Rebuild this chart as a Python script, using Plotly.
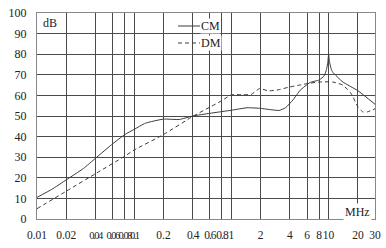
import math
import plotly.graph_objects as go

# Data
cm_freq = [0.01, 0.0142, 0.02, 0.03, 0.04, 0.06, 0.08, 0.1, 0.13, 0.2, 0.29, 0.4, 0.6, 1.0,
           1.45, 2.0, 2.6, 3.1, 3.6, 4.3, 5.1, 6.4, 8.0, 9.0, 9.5, 9.8, 10.0, 10.2, 10.6, 11.0,
           14.0, 20.0, 30.0]
cm_db = [10.5, 14.4, 19.0, 24.5, 29.5, 36.5, 41.0, 43.5, 46.5, 48.5, 48.3, 50.0, 51.3, 52.8,
         54.0, 53.7, 53.0, 52.7, 54.0, 57.8, 62.5, 66.2, 67.5, 69.5, 72.5, 76.0, 80.0, 76.5,
         73.0, 71.3, 66.5, 62.3, 55.7]

dm_freq = [0.01, 0.02, 0.04, 0.08, 0.1, 0.2, 0.4, 0.6, 0.8, 1.0, 1.3, 1.6, 1.95, 2.4, 3.1,
           3.9, 5.0, 6.0, 8.0, 11.0, 14.0, 17.0, 20.0, 22.5, 25.0, 30.0]
dm_db = [5.0, 13.5, 22.0, 30.5, 33.5, 41.0, 49.8, 54.3, 57.5, 60.3, 60.3, 60.5, 63.3, 62.2,
         62.8, 64.0, 65.0, 65.7, 66.5, 66.5, 65.0, 61.0, 54.5, 52.0, 52.0, 53.5]

x_tickvals = [0.01, 0.02, 0.04, 0.06, 0.08, 0.1, 0.2, 0.4, 0.6, 0.8, 1, 2, 4, 6, 8, 10, 20, 30]
x_ticklabels = ["0.01", "0.02", "0.04", "0.06", "0.08", "0.1", "0.2", "0.4", "0.6", "0.8", "1",
                "2", "4", "6", "8", "10", "20", "30"]
y_tickvals = list(range(0, 101, 10))
series_names = ["CM", "DM"]

FONT = "Liberation Serif"
GRID = "#4a4a4a"
LINE = "#3a3a3a"
TXT = "#222"

# condensed labels where the reference squeezes them together
tight = {"0.04", "0.06", "0.08", "0.1"}
mid = {"0.4", "0.6", "0.8"}
x_ticktext = []
for t in x_ticklabels:
    if t in tight:
        x_ticktext.append(f"<span style='font-size:10.5px;letter-spacing:-1.5px'>{t}</span>")
    elif t in mid:
        x_ticktext.append(f"<span style='letter-spacing:-1px'>{t}</span>")
    else:
        x_ticktext.append(t)

fig = go.Figure()
fig.add_trace(go.Scatter(x=cm_freq, y=cm_db, mode="lines", name=series_names[0],
                         line=dict(color=LINE, width=1, shape="spline", smoothing=0.4)))
fig.add_trace(go.Scatter(x=dm_freq, y=dm_db, mode="lines", name=series_names[1],
                         line=dict(color=LINE, width=1, dash="4px,3px", shape="spline",
                                   smoothing=0.5)))

# plot-area geometry (pixels) for placing legend items in paper coords
L, R, T, B = 37, 11, 13, 29
PW, PH = 386 - L - R, 248 - T - B


def px(xp):
    return (xp - L) / PW


def py(yp):
    return (248 - B - yp) / PH


shapes = []
annotations = [
    dict(text="dB", xref="paper", yref="paper", x=px(50), y=py(23), xanchor="center",
         yanchor="middle", showarrow=False, font=dict(family=FONT, size=12, color=TXT)),
    dict(text="MHz", xref="paper", yref="paper", x=px(357), y=py(212), xanchor="center",
         yanchor="middle", showarrow=False, font=dict(family=FONT, size=12, color=TXT),
         bgcolor="white", borderpad=1),
]
leg_y = [26, 43]
leg_dash = ["solid", "4px,3px"]
for name, yy, dsh in zip(series_names, leg_y, leg_dash):
    shapes.append(dict(type="line", xref="paper", yref="paper", x0=px(178), x1=px(200),
                       y0=py(yy), y1=py(yy), line=dict(color=LINE, width=1, dash=dsh)))
    annotations.append(dict(text=name, xref="paper", yref="paper", x=px(200), y=py(yy),
                            xanchor="left", yanchor="middle", showarrow=False,
                            font=dict(family=FONT, size=12, color=TXT), bgcolor="white",
                            borderpad=0))

fig.update_layout(
    width=386, height=248,
    margin=dict(l=L, r=R, t=T, b=B, autoexpand=False),
    paper_bgcolor="white", plot_bgcolor="white",
    font=dict(family=FONT, size=12, color=TXT),
    showlegend=False,
    xaxis=dict(type="log", range=[math.log10(0.01), math.log10(30)], automargin=False,
               tickmode="array", tickvals=x_tickvals, ticktext=x_ticktext, tickangle=0,
               tickfont=dict(family=FONT, size=11.5, color=TXT),
               showgrid=True, gridcolor=GRID, gridwidth=1,
               showline=True, linecolor="#888", linewidth=1, mirror=True,
               ticks="", zeroline=False, ticklabelstandoff=5),
    yaxis=dict(range=[0, 100], tickmode="array", tickvals=y_tickvals, automargin=False,
               tickfont=dict(family=FONT, size=12, color=TXT),
               showgrid=True, gridcolor=GRID, gridwidth=1,
               showline=True, linecolor="#888", linewidth=1, mirror=True,
               ticks="", zeroline=False, ticklabelstandoff=7),
    shapes=shapes,
    annotations=annotations,
)

fig.write_html("out.html", config={"displayModeBar": False},
               post_script="document.body.style.margin='0';document.body.style.overflow='hidden';")
